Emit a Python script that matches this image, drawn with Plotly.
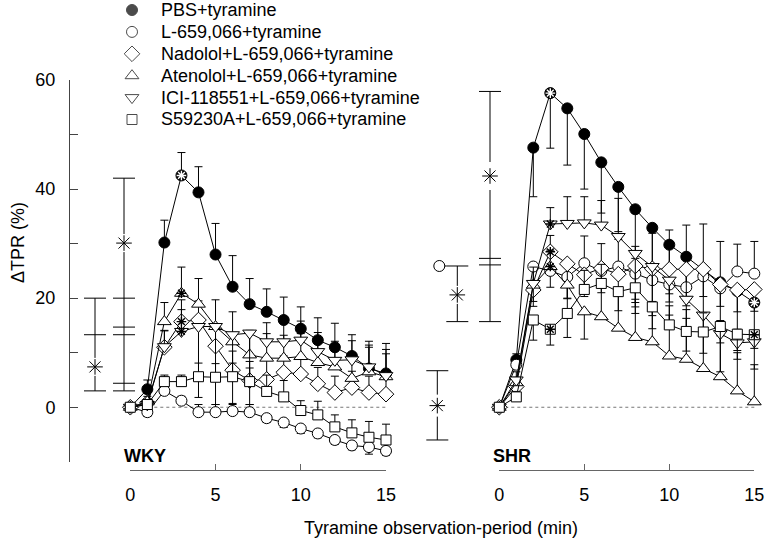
import plotly.graph_objects as go

# ---- values (change in TPR, %) ----
minutes = list(range(16))

series_names = [
    "PBS+tyramine",
    "L-659,066+tyramine",
    "Nadolol+L-659,066+tyramine",
    "Atenolol+L-659,066+tyramine",
    "ICI-118551+L-659,066+tyramine",
    "S59230A+L-659,066+tyramine",
]

# WKY means; SEM lists are signed: + drawn upward, - drawn downward
wky_pbs = [0, 3.3, 30.2, 42.5, 39.4, 28.0, 22.1, 18.9, 17.5, 16.0, 14.4, 12.3, 11.0, 9.4, 7.1, 6.2]
wky_pbs_err = [0, 1.7, 4.1, 4.2, 4.7, 5.7, 5.7, 4.7, 4.2, 4.2, 4.0, 4.1, 4.4, 3.9, 5.0, 5.5]
wky_l659 = [0, -0.9, 3.0, 1.2, -0.9, -0.9, -0.7, -0.9, -2.0, -2.8, -3.9, -4.8, -6.0, -7.0, -7.3, -8.0]
wky_l659_err = [0, -0.8, 1.5, 0.8, 1.4, 1.4, 1.4, 1.4, -0.8, -0.9, -0.9, -0.8, -0.8, -0.8, -1.3, -0.8]
wky_nad = [0, 0.8, 11.0, 15.7, 16.0, 11.2, 6.8, 4.9, 5.1, 6.4, 6.1, 4.3, 2.7, 3.6, 2.7, 2.4]
wky_nad_err = [0, 0.8, 3.0, 4.0, 3.5, 3.5, 3.5, 3.5, 3.5, 3.0, 3.0, 3.0, 3.0, 3.0, 3.0, 3.0]
wky_ate = [0, 1.0, 15.7, 20.9, 18.9, 14.8, 12.0, 9.6, 9.0, 9.0, 9.3, 8.2, 7.4, 5.3, 6.5, 5.6]
wky_ate_err = [0, 1.0, 3.5, 4.8, 4.7, 4.9, 5.5, 4.5, 4.5, 4.2, 4.2, 4.0, 4.0, 3.8, 4.5, 5.0]
wky_ici = [0, 0.5, 11.1, 13.9, 14.8, 14.8, 13.3, 13.6, 12.0, 12.0, 12.3, 10.2, 8.6, 8.7, 7.4, 5.8]
wky_ici_err = [0, 0.8, 3.0, 4.0, -13.0, -14.3, -12.8, -13.1, 3.5, 3.5, 3.5, 3.5, 3.5, 3.5, 4.0, 4.0]
wky_s59 = [0, 0.5, 4.7, 4.7, 5.6, 5.5, 5.6, 4.7, 2.9, 1.9, -0.6, -1.4, -3.6, -4.7, -5.5, -6.0]
wky_s59_err = [0, 0.5, 1.2, 1.2, 2.5, 2.5, 2.5, 2.5, 3.0, 3.0, 1.8, 2.5, 2.2, 2.4, 2.9, 2.9]

# SHR means and signed SEM
shr_pbs = [0, 8.7, 47.6, 57.6, 54.8, 50.1, 44.9, 40.4, 36.3, 32.9, 29.8, 27.6, 25.2, 22.9, 21.3, 19.2]
shr_pbs_err = [0, -1.5, -9.0, -10.1, -10.4, -10.1, -9.3, -8.2, -9.0, -9.0, -9.0, -9.0, -8.0, -7.0, -7.0, -6.0]
shr_l659 = [0, 7.8, 25.8, 25.0, 23.9, 26.4, 25.0, 25.8, 24.5, 23.3, 22.5, 22.0, 24.0, 21.8, 24.9, 24.5]
shr_l659_err = [0, 2.0, -3.0, -3.0, -4.0, 5.0, 5.0, 5.0, 5.0, 8.6, 10.0, 11.4, 9.6, 8.6, 5.0, 5.9]
shr_nad = [0, 3.8, 21.5, 28.5, 26.3, 24.3, 25.5, 24.4, 25.9, 25.4, 25.3, 25.3, 25.3, 22.5, 21.5, 21.6]
shr_nad_err = [0, 1.0, -3.0, 3.0, -6.3, -4.0, -4.5, -4.0, -8.7, -6.0, -6.0, -5.0, -5.0, -4.0, -4.0, -4.0]
shr_ate = [0, 4.5, 22.4, 25.8, 22.4, 17.5, 16.6, 14.5, 12.8, 12.0, 9.4, 8.8, 7.1, 5.6, 3.0, 1.0]
shr_ate_err = [0, 1.0, -3.0, 3.0, -5.0, -5.0, 6.0, 6.5, 7.0, 7.0, 7.5, 7.5, 7.5, 7.5, 7.0, 6.8]
shr_ici = [0, 5.0, 22.7, 33.6, 33.7, 33.8, 33.4, 31.3, 28.2, 25.8, 23.3, 19.8, 16.9, 13.5, 11.8, 12.0]
shr_ici_err = [0, 1.5, 3.0, 3.0, 4.9, 4.8, 4.5, 7.0, -9.0, -9.0, -9.0, -9.5, -7.0, -7.0, -3.0, -5.0]
shr_s59 = [0, 1.9, 16.0, 14.3, 17.2, 21.6, 22.7, 21.2, 21.9, 18.4, 15.1, 13.9, 13.8, 14.8, 13.4, 13.3]
shr_s59_err = [0, 1.0, -3.7, -2.9, -4.4, 3.5, 3.5, -3.5, -3.5, -4.0, 3.5, 4.0, 3.5, -3.0, -3.0, -2.5]

# points carrying an asterisk inside the marker: (series index, minute)
wky_marked = [(0, 3), (2, 3), (3, 3), (4, 3)]
shr_marked = [(0, 3), (0, 15), (2, 3), (3, 3), (4, 3), (5, 3), (5, 15)]

# significance brackets at the left of each panel: cap levels, asterisk level
wky_br1_levels = [3.0, 13.3, 20.0]
wky_br1_star = 7.4
wky_br2_levels = [3.0, 4.4, 13.3, 14.7, 20.0, 42.0]
wky_br2_star = 30.1
shr_br1_levels = [15.7, 25.9]
shr_br1_star = 20.6
shr_br2_levels = [15.7, 26.1, 27.3, 57.9]
shr_br2_star = 42.4
shr_br3_levels = [-6.0, 6.7]
shr_br3_star = 0.3

# ---- layout geometry (pixels of the 767x542 page) ----
W, H = 767, 542
FONT = "Liberation Sans, Arial, sans-serif"
Y_TOP_PX, Y_BOT_PX = 80.0, 461.8        # y = 60 and y = -10
Y_PX_PER_UNIT = (Y_BOT_PX - Y_TOP_PX) / 70.0
AXIS_X_PX = 69
XAXIS_Y_PX = 470


def px(x):
    return x / W


def py(y):
    return 1 - y / H


def panel_range(zero_px, fifteen_px, dom):
    k = (fifteen_px - zero_px) / 15.0
    return [(dom[0] - zero_px) / k, (dom[1] - zero_px) / k], k


wky_zero, wky_fifteen, wky_dom = 130.3, 386.0, (69, 395)
shr_zero, shr_fifteen, shr_dom = 499.3, 754.3, (400, 767)
wky_range, wky_k = panel_range(wky_zero, wky_fifteen, wky_dom)
shr_range, shr_k = panel_range(shr_zero, shr_fifteen, shr_dom)

styles = [
    dict(symbol="circle", color="black", size=11),
    dict(symbol="circle", color="white", size=11),
    dict(symbol="diamond", color="white", size=12),
    dict(symbol="triangle-up", color="white", size=12),
    dict(symbol="triangle-down", color="white", size=12),
    dict(symbol="square", color="white", size=10),
]


def err_dict(err):
    return dict(type="data", symmetric=False,
                array=[max(e, 0) for e in err],
                arrayminus=[max(-e, 0) for e in err],
                color="black", thickness=1, width=4)


fig = go.Figure()

wky_means = [wky_pbs, wky_l659, wky_nad, wky_ate, wky_ici, wky_s59]
wky_errs = [wky_pbs_err, wky_l659_err, wky_nad_err, wky_ate_err, wky_ici_err, wky_s59_err]
shr_means = [shr_pbs, shr_l659, shr_nad, shr_ate, shr_ici, shr_s59]
shr_errs = [shr_pbs_err, shr_l659_err, shr_nad_err, shr_ate_err, shr_ici_err, shr_s59_err]

for xa, means, errs, marked in (("x", wky_means, wky_errs, wky_marked),
                                ("x2", shr_means, shr_errs, shr_marked)):
    for i, (m, e) in enumerate(zip(means, errs)):
        st = styles[i]
        fig.add_trace(go.Scatter(
            x=minutes, y=m, xaxis=xa, yaxis="y", mode="lines+markers",
            name=series_names[i],
            line=dict(color="black", width=1),
            marker=dict(symbol=st["symbol"], size=st["size"], color=st["color"],
                        line=dict(color="black", width=1)),
            error_y=err_dict(e), cliponaxis=False, showlegend=False))
    for s, t in marked:
        c = "white" if s == 0 else "black"
        fig.add_trace(go.Scatter(
            x=[minutes[t]], y=[means[s][t]], xaxis=xa, yaxis="y", mode="markers",
            marker=dict(symbol="asterisk-open", size=8, color=c, line=dict(color=c, width=1.4)),
            cliponaxis=False, showlegend=False, hoverinfo="skip"))

# invisible traces so the two drawn x axes get their own subplots
for xa in ("x3", "x4"):
    fig.add_trace(go.Scatter(x=[0], y=[None], xaxis=xa, yaxis="y3", mode="markers",
                             showlegend=False, hoverinfo="skip"))

shapes = []
line_style = dict(color="black", width=1)


def bracket(xref, k, zero_px, x_px, levels, star, gap_px=9):
    xc = (x_px - zero_px) / k
    half = 11.0 / k
    gap = gap_px / Y_PX_PER_UNIT
    lo, hi = min(levels), max(levels)
    shapes.append(dict(type="line", xref=xref, yref="y", x0=xc, x1=xc, y0=lo, y1=star - gap,
                       line=line_style, layer="below"))
    shapes.append(dict(type="line", xref=xref, yref="y", x0=xc, x1=xc, y0=star + gap, y1=hi,
                       line=line_style, layer="below"))
    for lv in levels:
        shapes.append(dict(type="line", xref=xref, yref="y", x0=xc - half, x1=xc + half,
                           y0=lv, y1=lv, line=line_style, layer="below"))
    fig.add_trace(go.Scatter(
        x=[xc], y=[star], xaxis=xref, yaxis="y", mode="markers",
        marker=dict(symbol="asterisk-open", size=13, color="black",
                    line=dict(color="black", width=1)),
        cliponaxis=False, showlegend=False, hoverinfo="skip"))
    return xc, half


bracket("x", wky_k, wky_zero, 95, wky_br1_levels, wky_br1_star)
bracket("x", wky_k, wky_zero, 124, wky_br2_levels, wky_br2_star)
xc1, half1 = bracket("x2", shr_k, shr_zero, 457.3, shr_br1_levels, shr_br1_star)
bracket("x2", shr_k, shr_zero, 490, shr_br2_levels, shr_br2_star, gap_px=14)
bracket("x2", shr_k, shr_zero, 437.3, shr_br3_levels, shr_br3_star, gap_px=11)

# reference circle (L-659,066 group) at the top of the first SHR bracket
circ_x = (439.3 - shr_zero) / shr_k
shapes.append(dict(type="line", xref="x2", yref="y", x0=circ_x, x1=xc1 - half1,
                   y0=max(shr_br1_levels), y1=max(shr_br1_levels), line=line_style, layer="below"))
fig.add_trace(go.Scatter(
    x=[circ_x], y=[max(shr_br1_levels)], xaxis="x2", yaxis="y", mode="markers",
    marker=dict(symbol="circle", size=11, color="white", line=dict(color="black", width=1)),
    cliponaxis=False, showlegend=False, hoverinfo="skip"))

# dotted zero lines
for xref in ("x", "x2"):
    shapes.append(dict(type="line", xref=xref, yref="y", x0=minutes[0], x1=minutes[-1], y0=0, y1=0,
                       line=dict(color="#777", width=1, dash="dot"), layer="below"))

# legend drawn by hand (rows closer than plotly's own legend allows)
LEG_SYM_PX, LEG_TXT_PX, LEG_ROW0, LEG_DY = 132, 159, 10, 21.9
leg_y = [LEG_ROW0 + r * LEG_DY for r in range(len(series_names))]
fig.add_trace(go.Scatter(
    x=[LEG_SYM_PX] * len(series_names), y=leg_y, xaxis="x5", yaxis="y5", mode="markers",
    marker=dict(symbol=[s["symbol"] for s in styles], size=[s["size"] for s in styles],
                color=[s["color"] for s in styles], line=dict(color="black", width=1)),
    showlegend=False, hoverinfo="skip"))

annotations = []
for name, yy in zip(series_names, leg_y):
    annotations.append(dict(x=px(LEG_TXT_PX), y=py(yy), xref="paper", yref="paper",
                            text=name, showarrow=False, xanchor="left", yanchor="middle",
                            font=dict(size=18)))
annotations += [
    dict(x=px(18), y=py(243), xref="paper", yref="paper", text="ΔTPR (%)", textangle=-90,
         showarrow=False, xanchor="center", yanchor="middle", font=dict(size=18)),
    dict(x=px(441), y=py(528), xref="paper", yref="paper", text="Tyramine observation-period (min)",
         showarrow=False, xanchor="center", yanchor="middle", font=dict(size=18)),
    dict(x=px(122), y=py(456), xref="paper", yref="paper", text="<b>WKY</b>", xanchor="left",
         yanchor="middle", showarrow=False, font=dict(size=18)),
    dict(x=px(491), y=py(456), xref="paper", yref="paper", text="<b>SHR</b>", xanchor="left",
         yanchor="middle", showarrow=False, font=dict(size=18)),
]

display_x = dict(range=[0, 15], anchor="y3", side="bottom", showline=True,
                 linecolor="#666", linewidth=1, ticks="inside", ticklen=6, tickcolor="#666",
                 tickvals=[0, 5, 10, 15], showgrid=False, zeroline=False,
                 ticklabelstandoff=8, tickfont=dict(size=18))

fig.update_layout(
    width=W, height=H, margin=dict(l=0, r=0, t=0, b=0, autoexpand=False),
    paper_bgcolor="white", plot_bgcolor="rgba(0,0,0,0)",
    showlegend=False,
    font=dict(family=FONT, size=18, color="black"),
    xaxis=dict(domain=[px(wky_dom[0]), px(wky_dom[1])], range=wky_range, visible=False, anchor="y"),
    xaxis2=dict(domain=[px(shr_dom[0]), px(shr_dom[1])], range=shr_range, visible=False, anchor="y"),
    yaxis=dict(domain=[py(Y_BOT_PX), py(Y_TOP_PX)], range=[-10, 60], anchor="free",
               position=px(AXIS_X_PX), showline=True, linecolor="#444", linewidth=1,
               ticks="inside", ticklen=8, tickcolor="#444", tickvals=[0, 20, 40, 60],
               minor=dict(ticks="inside", ticklen=8, tickvals=[-10, 10, 30, 50], tickcolor="#444"),
               showgrid=False, zeroline=False, ticklabelstandoff=10, tickfont=dict(size=18)),
    xaxis3=dict(domain=[px(wky_zero), px(wky_fifteen)], **display_x),
    xaxis4=dict(domain=[px(shr_zero), px(shr_fifteen)], **display_x),
    yaxis3=dict(domain=[py(XAXIS_Y_PX), py(XAXIS_Y_PX - 1)], range=[0, 1], visible=False,
                anchor="x3"),
    xaxis5=dict(domain=[0, 1], range=[0, W], visible=False, anchor="y5"),
    yaxis5=dict(domain=[0, 1], range=[H, 0], visible=False, anchor="x5"),
    shapes=shapes,
    annotations=annotations,
)

fig.write_html("out.html", config={"displayModeBar": False},
               post_script="document.body.style.margin='0';document.body.style.overflow='hidden';")
